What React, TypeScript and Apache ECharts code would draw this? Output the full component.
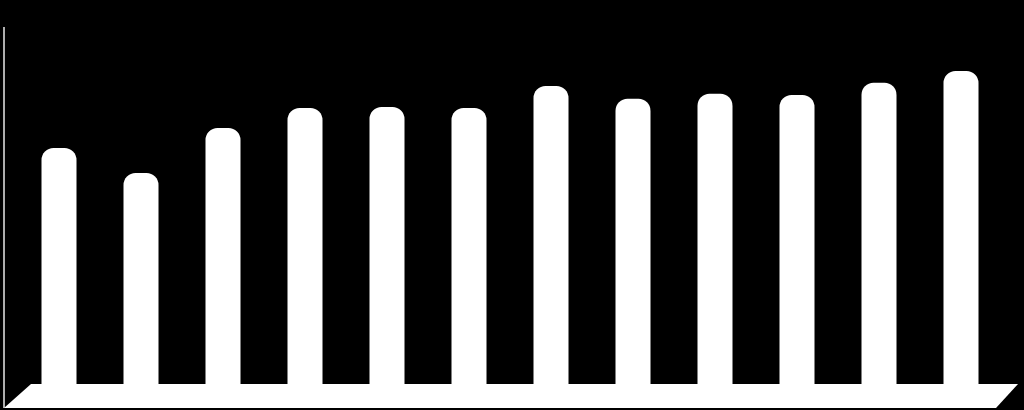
import React, { useEffect, useRef } from 'react'
import * as echarts from 'echarts'

// Month-like categories (no labels shown in the chart)
const categories = ['1', '2', '3', '4', '5', '6', '7', '8', '9', '10', '11', '12']
// Bar heights (scale 0-100)
const values = [66.3, 59.3, 71.9, 77.5, 77.8, 77.5, 83.7, 80.1, 81.5, 81.2, 84.6, 87.9]

const WIDTH = 1024
const HEIGHT = 410

const App: React.FC = () => {
  const chartRef = useRef<HTMLDivElement>(null)

  useEffect(() => {
    document.body.style.margin = '0'
    document.body.style.background = '#000'
    if (!chartRef.current) return
    const chart = echarts.init(chartRef.current, undefined, { renderer: 'svg' })

    const option: echarts.EChartsOption = {
      animation: false,
      backgroundColor: '#000',
      grid: { left: 18, right: 22, top: 28, bottom: 26 },
      xAxis: {
        type: 'category',
        data: categories,
        axisLine: { show: false },
        axisTick: { show: false },
        axisLabel: { show: false },
      },
      yAxis: {
        type: 'value',
        min: 0,
        max: 100,
        axisLine: { show: false },
        axisTick: { show: false },
        axisLabel: { show: false },
        splitLine: { show: false },
      },
      // 3D-looking floor and back wall edge
      graphic: [
        {
          type: 'polygon',
          z: 1,
          shape: {
            points: [
              [31, 384],
              [1018, 384],
              [996, 408],
              [4, 408],
            ],
          },
          style: { fill: '#fff' },
        },
        {
          type: 'line',
          z: 1,
          shape: { x1: 4, y1: 27, x2: 4, y2: 408 },
          style: { stroke: '#e8e8e8', lineWidth: 1.5 },
        },
      ],
      series: [
        {
          type: 'bar',
          data: values,
          barWidth: 35,
          z: 5,
          itemStyle: {
            color: '#fff',
            borderRadius: [12, 12, 0, 0],
          },
        },
      ],
    }

    chart.setOption(option)
    return () => {
      chart.dispose()
    }
  }, [])

  return <div ref={chartRef} style={{ width: WIDTH, height: HEIGHT }} />
}

export default App
